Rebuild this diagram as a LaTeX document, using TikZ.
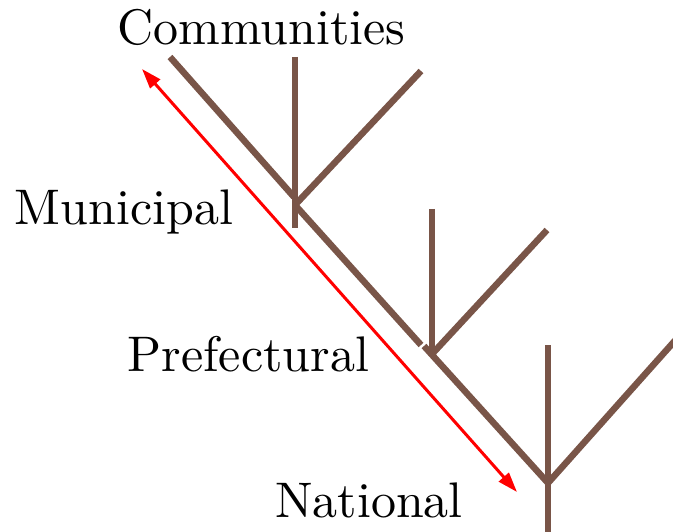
\documentclass[tikz,border=0pt]{standalone}
\usetikzlibrary{arrows.meta}
\definecolor{branch}{HTML}{795548}
\begin{document}
\begin{tikzpicture}[x=1pt,y=-1pt,
  limb/.style={draw=branch,line width=6.5pt},
  span/.style={draw=red,line width=3pt,
    {Triangle[length=20pt,width=13pt]}-{Triangle[length=20pt,width=13pt]}},
  tier/.style={inner sep=0pt,anchor=base}]
\clip (0,0) rectangle (673,532);

% tier labels
\node[tier] (comm) at (261.5,45)  {\scalebox{5}{Communities}};
\node[tier] (muni) at (124,225)   {\scalebox{5}{Municipal}};
\node[tier] (pref) at (248.5,371) {\scalebox{5}{Prefectural}};
\node[tier] (natl) at (369,517)   {\scalebox{5}{National}};

% first fork
\coordinate (aL) at (170,57);
\coordinate (aJ) at (294,197);
\coordinate (aT) at (295,57);
\coordinate (aB) at (295,228);
\coordinate (aS) at (295,205);
\coordinate (aR) at (421,71);
% second fork
\coordinate (bE) at (421,345);
\coordinate (bT) at (432,209);
\coordinate (bB) at (432,354);
\coordinate (bJ) at (433,353);
\coordinate (bR) at (547,230);
\coordinate (bS) at (424,346);
% third fork
\coordinate (cJ) at (548,483);
\coordinate (cT) at (548,345);
\coordinate (cB) at (548,545);
\coordinate (cR) at (680,335);

\draw[limb] (aL) -- (aJ);
\draw[limb] (aT) -- (aB);
\draw[limb] (aS) -- (aR);
\draw[limb] (aS) -- (bE);

\draw[limb] (bT) -- (bB);
\draw[limb] (bJ) -- (bR);
\draw[limb] (bS) -- (cJ);

\draw[limb] (cT) -- (cB);
\draw[limb] (cJ) -- (cR);

% span of the tiers
\coordinate (top) at (142,69);
\coordinate (bottom) at (517,492);
\draw[span] (top) -- (bottom);
\end{tikzpicture}
\end{document}
